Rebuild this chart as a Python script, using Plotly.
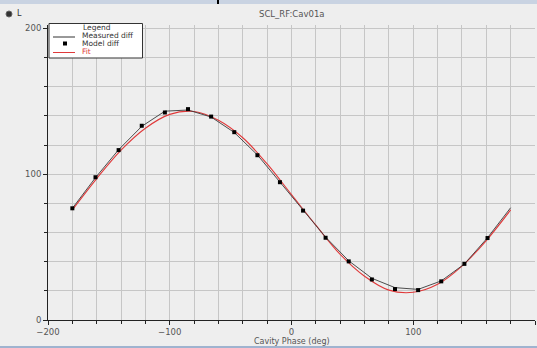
import plotly.graph_objects as go

# ---- data ----
model_phase = [-180, -161, -142, -123, -104, -85, -66, -47, -28, -9.5,
               9.5, 28, 47, 66, 85, 104, 123, 142, 161]
model_diff = [76.6, 97.9, 116.5, 133.2, 142.3, 144.6, 139.5, 128.8, 113.0, 94.5,
              75.0, 56.4, 40.2, 27.8, 21.2, 20.5, 26.5, 38.5, 56.2]
measured_phase = model_phase + [180]
measured_diff = [76.6, 97.6, 116.8, 132.8, 143.2, 144.0, 139.2, 128.6, 113.2, 94.8,
                 75.4, 56.8, 40.6, 28.6, 22.2, 21.0, 26.8, 38.4, 56.4, 77.0]
fit_phase = [-180, -160, -140, -120, -100, -80, -60, -40, -20, 0,
             20, 40, 60, 80, 100, 120, 140, 160, 180]
fit_diff = [75.5, 97.0, 116.5, 131.5, 141.0, 143.0, 137.0, 125.0, 107.0, 86.0,
            65.0, 45.0, 30.0, 20.5, 19.0, 24.5, 37.0, 54.5, 75.5]

title_text = "SCL_RF:Cav01a"
x_title = "Cavity Phase (deg)"
legend_title = "Legend"
legend_names = ["Measured diff", "Model diff", "Fit"]

# ---- layout geometry (pixels) ----
W, H = 537, 348
L, R, T, B = 48, 2, 25, 28
PW, PH = W - L - R, H - T - B


def px(x):
    return (x - L) / PW


def py(y):
    return (H - B - y) / PH


BG = "#eeeeee"
GRID = "#c6c6c6"
RED = "#e0393a"

fig = go.Figure()
fig.add_trace(go.Scatter(x=fit_phase, y=fit_diff, mode="lines",
                         line=dict(color=RED, width=1.1, shape="spline", smoothing=1.0),
                         name=legend_names[2], showlegend=False))
fig.add_trace(go.Scatter(x=measured_phase, y=measured_diff, mode="lines",
                         line=dict(color="#3a3a3a", width=0.9),
                         name=legend_names[0], showlegend=False))
fig.add_trace(go.Scatter(x=model_phase, y=model_diff, mode="markers",
                         marker=dict(color="black", size=4, symbol="square"),
                         name=legend_names[1], showlegend=False))

tickfont = dict(family="DejaVu Sans", size=8.5, color="#555555")
axis_common = dict(
    showgrid=True, gridcolor=GRID, gridwidth=1,
    ticks="outside", ticklen=4, tickcolor="#222222",
    showline=True, linecolor="#222222", linewidth=1,
    zeroline=False, tickfont=tickfont,
    minor=dict(dtick=20, ticks="outside", ticklen=3, tickcolor="#222222",
               showgrid=True, gridcolor=GRID, gridwidth=1),
)
fig.update_xaxes(range=[-200, 200], tick0=0, dtick=100, ticklabelstandoff=0, **axis_common)
fig.update_yaxes(range=[0, 202.3], tick0=0, dtick=100, **axis_common)

shapes = []
annotations = []

# top band and bottom line (window chrome)
shapes.append(dict(type="rect", xref="paper", yref="paper", x0=px(0), x1=px(W),
                   y0=py(0), y1=py(4), fillcolor="#c9d3e2", line=dict(width=0), layer="above"))
shapes.append(dict(type="line", xref="paper", yref="paper", x0=px(218), x1=px(218),
                   y0=py(0), y1=py(4), line=dict(color="black", width=2)))
shapes.append(dict(type="rect", xref="paper", yref="paper", x0=px(0), x1=px(W),
                   y0=py(346), y1=py(348), fillcolor="#9fb3cf", line=dict(width=0)))
# radio button at top-left
shapes.append(dict(type="circle", xref="paper", yref="paper", x0=px(6), x1=px(12),
                   y0=py(11), y1=py(17), fillcolor="#333333", line=dict(color="#666666", width=1)))
annotations.append(dict(text="L", xref="paper", yref="paper", x=px(15), y=py(14),
                        xanchor="left", yanchor="middle", showarrow=False,
                        font=dict(family="DejaVu Sans", size=8, color="#333333")))

# title
annotations.append(dict(text=title_text, xref="paper", yref="paper", x=px(292), y=py(14),
                        xanchor="center", yanchor="middle", showarrow=False,
                        font=dict(family="DejaVu Sans", size=8.5, color="#555555")))
# x axis title
annotations.append(dict(text=x_title, xref="paper", yref="paper", x=px(292), y=py(341.5),
                        xanchor="center", yanchor="middle", showarrow=False,
                        font=dict(family="DejaVu Sans", size=8, color="#555555")))

# legend box (drawn manually to match compact style)
shapes.append(dict(type="rect", xref="paper", yref="paper", x0=px(49), x1=px(142.5),
                   y0=py(58), y1=py(23.5), fillcolor="white",
                   line=dict(color="#333333", width=1), layer="above"))
lf = dict(family="DejaVu Sans", size=7.5, color="#333333")
rows = [28, 35, 43, 51]
annotations.append(dict(text=legend_title, xref="paper", yref="paper", x=px(81), y=py(rows[0]),
                        xanchor="left", yanchor="middle", showarrow=False, font=lf))
annotations.append(dict(text=legend_names[0], xref="paper", yref="paper", x=px(80), y=py(rows[1]),
                        xanchor="left", yanchor="middle", showarrow=False, font=lf))
annotations.append(dict(text=legend_names[1], xref="paper", yref="paper", x=px(80), y=py(rows[2]),
                        xanchor="left", yanchor="middle", showarrow=False, font=lf))
annotations.append(dict(text=legend_names[2], xref="paper", yref="paper", x=px(80), y=py(rows[3]),
                        xanchor="left", yanchor="middle", showarrow=False,
                        font=dict(family="DejaVu Sans", size=7.5, color=RED)))
shapes.append(dict(type="line", xref="paper", yref="paper", x0=px(53), x1=px(75),
                   y0=py(37), y1=py(37), line=dict(color="#333333", width=1), layer="above"))
shapes.append(dict(type="rect", xref="paper", yref="paper", x0=px(63), x1=px(67),
                   y0=py(41.5), y1=py(45.5), fillcolor="black", line=dict(width=0), layer="above"))
shapes.append(dict(type="line", xref="paper", yref="paper", x0=px(53), x1=px(75),
                   y0=py(52.5), y1=py(52.5), line=dict(color=RED, width=1), layer="above"))

fig.update_layout(
    width=W, height=H,
    margin=dict(l=L, r=R, t=T, b=B),
    paper_bgcolor=BG, plot_bgcolor=BG,
    showlegend=False,
    shapes=shapes, annotations=annotations,
)

fig.write_html("out.html")
